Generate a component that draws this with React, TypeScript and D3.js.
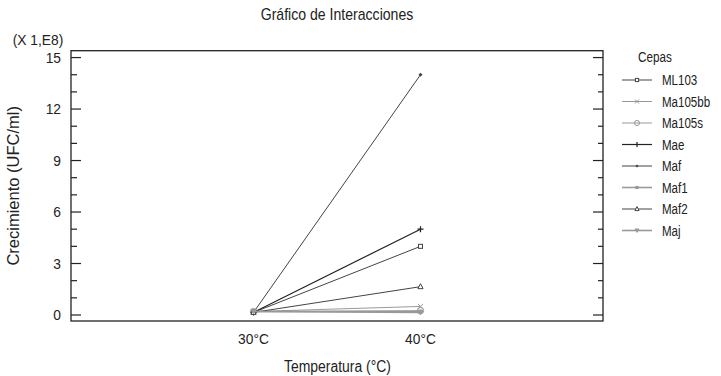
import React from "react";
import * as d3 from "d3";

const temps = ["30°C", "40°C"];
const series = ["ML103", "Ma105bb", "Ma105s", "Mae", "Maf", "Maf1", "Maf2", "Maj"];
const at30 = [0.15, 0.2, 0.2, 0.15, 0.15, 0.2, 0.15, 0.2];
const at40 = [4.0, 0.5, 0.25, 5.0, 14.0, 0.2, 1.65, 0.15];
const colors = ["#444", "#999", "#999", "#222", "#444", "#999", "#444", "#999"];
const widths = [1, 1, 1, 1.2, 1, 1.6, 1, 1.6];
const markers = ["square", "x", "circle", "plus", "dot", "star", "triangle", "tridown"];
const yTicks = d3.range(0, 16, 1);
const yLabels = [0, 3, 6, 9, 12, 15];

const W = 721, H = 376;
const L = 71, R = 603, T = 50.7, B = 321;
const FONT = "'Liberation Sans', Arial, sans-serif";

function Marker({ type, x, y, color, s = 1 }: { type: string; x: number; y: number; color: string; s?: number }) {
  const k = s;
  switch (type) {
    case "square":
      return <rect x={x - 2 * k} y={y - 2 * k} width={4 * k} height={4 * k} fill="#fff" stroke={color} strokeWidth={1} />;
    case "x":
      return <path d={`M${x - 2.5 * k},${y - 2.5 * k}L${x + 2.5 * k},${y + 2.5 * k}M${x - 2.5 * k},${y + 2.5 * k}L${x + 2.5 * k},${y - 2.5 * k}`} stroke={color} strokeWidth={1} />;
    case "circle":
      return <circle cx={x} cy={y} r={3.2 * k} fill="none" stroke={color} strokeWidth={1} />;
    case "plus":
      return <path d={`M${x - 3 * k},${y}L${x + 3 * k},${y}M${x},${y - 3 * k}L${x},${y + 3 * k}`} stroke={color} strokeWidth={1.2} />;
    case "dot":
      return <path d={`M${x},${y - 2 * k}L${x + 2 * k},${y}L${x},${y + 2 * k}L${x - 2 * k},${y}Z`} fill={color} />;
    case "star":
      return <rect x={x - 2 * k} y={y - 2 * k} width={4 * k} height={4 * k} fill={color} />;
    case "triangle":
      return <path d={`M${x},${y - 3 * k}L${x + 2.6 * k},${y + 2 * k}L${x - 2.6 * k},${y + 2 * k}Z`} fill="#fff" stroke={color} strokeWidth={1} />;
    case "tridown":
      return <path d={`M${x},${y + 2.5 * k}L${x + 2.5 * k},${y - 2 * k}L${x - 2.5 * k},${y - 2 * k}Z`} fill={color} stroke={color} strokeWidth={0.8} />;
    default:
      return null;
  }
}

export default function App() {
  const x = d3.scalePoint<string>().domain(temps).range([L, R]).padding(1.093);
  const y = d3.scaleLinear().domain([-0.35, 15.4]).range([B, T]);
  const line = d3.line<[number, number]>().x((d) => d[0]).y((d) => d[1]);

  const legendY = (i: number) => 80 + i * 21.5;

  return (
    <svg width={W} height={H} style={{ position: "absolute", left: 0, top: 0, background: "#fff" }} fontFamily={FONT}>
      <rect width={W} height={H} fill="#fff" />
      <text transform="translate(337,20) scale(0.88,1)" textAnchor="middle" fontSize={16} fill="#222">Gráfico de Interacciones</text>
      <text transform="translate(38,45) scale(0.92,1)" textAnchor="middle" fontSize={15} fill="#222">(X 1,E8)</text>

      {/* frame */}
      <rect x={L} y={T} width={R - L} height={B - T} fill="none" stroke="#222" strokeWidth={1.3} />

      {/* y ticks left & right */}
      {yTicks.map((t) => {
        const major = t % 3 === 0;
        const yy = y(t);
        return (
          <g key={t}>
            <line x1={L} x2={L + (major ? 10 : 6)} y1={yy} y2={yy} stroke="#222" strokeWidth={1.2} />
            <line x1={R} x2={R - (major ? 10 : 5)} y1={yy} y2={yy} stroke="#222" strokeWidth={1.2} />
          </g>
        );
      })}
      {yLabels.map((t) => (
        <text key={t} transform={`translate(61,${y(t)}) scale(0.92,1)`} dy="0.36em" textAnchor="end" fontSize={15} fill="#222">{t}</text>
      ))}
      <text transform={`translate(19,${(T + B) / 2}) rotate(-90)`} textAnchor="middle" fontSize={16.5} fill="#222">Crecimiento (UFC/ml)</text>

      {temps.map((t) => (
        <text key={t} transform={`translate(${x(t)},344) scale(0.92,1)`} textAnchor="middle" fontSize={15} fill="#222">{t}</text>
      ))}
      <text transform="translate(337.5,372) scale(0.87,1)" textAnchor="middle" fontSize={16} fill="#222">Temperatura (°C)</text>

      {/* series */}
      {series.map((s, i) => {
        const pts: [number, number][] = [
          [x(temps[0])!, y(at30[i])],
          [x(temps[1])!, y(at40[i])],
        ];
        return (
          <g key={s}>
            <path d={line(pts)!} fill="none" stroke={colors[i]} strokeWidth={widths[i]} />
            {pts.map((p, j) => (
              <Marker key={j} type={markers[i]} x={p[0]} y={p[1]} color={colors[i]} />
            ))}
          </g>
        );
      })}

      {/* legend */}
      <text transform="translate(655,62) scale(0.78,1)" textAnchor="middle" fontSize={15} fill="#222">Cepas</text>
      {series.map((s, i) => {
        const ly = legendY(i);
        return (
          <g key={s}>
            <line x1={622} x2={652} y1={ly} y2={ly} stroke={colors[i]} strokeWidth={widths[i]} />
            <Marker type={markers[i]} x={637} y={ly} color={colors[i]} s={0.8} />
            <text transform={`translate(662,${ly}) scale(0.77,1)`} dy="0.36em" fontSize={15} fill="#222">{s}</text>
          </g>
        );
      })}
    </svg>
  );
}
